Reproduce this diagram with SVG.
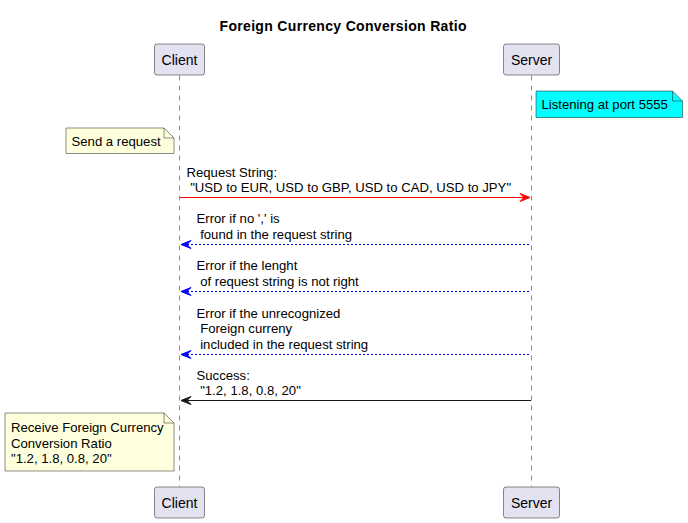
<svg xmlns="http://www.w3.org/2000/svg" width="688" height="523" viewBox="0 0 688 523">
<style>
  text { font-family: "Liberation Sans", Arial, sans-serif; fill: #000000; }
  .title { font-size: 14px; font-weight: bold; }
  .pname { font-size: 14px; }
  .msg { font-size: 13.15px; }
  .part { fill: #E2E2F0; stroke: #181818; stroke-width: 0.5; }
  .life { stroke: #181818; stroke-width: 0.5; stroke-dasharray: 5,5; fill: none; }
  .note { fill: #FEFFDD; stroke: #181818; stroke-width: 0.5; }
  .note-cyan { fill: #00FFFF; stroke: #181818; stroke-width: 0.5; }
  .fold { fill: none; stroke: #181818; stroke-width: 0.5; }
</style>
<rect width="688" height="523" fill="#FFFFFF"/>
<text class="title" x="219.5" y="30.5" textLength="247" lengthAdjust="spacing">Foreign Currency Conversion Ratio</text>

<g id="lifelines">
  <line class="life" x1="179.5" y1="75.5" x2="179.5" y2="486.5"/>
  <line class="life" x1="531.5" y1="75.5" x2="531.5" y2="486.5"/>
</g>

<g id="client">
  <rect class="part" x="154.5" y="44" width="50" height="31" rx="2.5"/>
  <text class="pname" x="179.5" y="65" text-anchor="middle">Client</text>
  <rect class="part" x="154.5" y="487" width="50" height="31" rx="2.5"/>
  <text class="pname" x="179.5" y="508" text-anchor="middle">Client</text>
</g>

<g id="server">
  <rect class="part" x="503.5" y="44" width="56" height="31" rx="2.5"/>
  <text class="pname" x="531.5" y="65" text-anchor="middle">Server</text>
  <rect class="part" x="503.5" y="487" width="56" height="31" rx="2.5"/>
  <text class="pname" x="531.5" y="508" text-anchor="middle">Server</text>
</g>

<g id="note-listening">
  <path class="note-cyan" d="M536,91 L536,117.5 L682.5,117.5 L682.5,101 L672.5,91 Z"/>
  <path class="fold" d="M672.5,91 L672.5,101 L682.5,101"/>
  <text class="msg" x="541.5" y="109">Listening at port 5555</text>
</g>

<g id="note-send">
  <path class="note" d="M66,128 L66,153.5 L174,153.5 L174,138 L164,128 Z"/>
  <path class="fold" d="M164,128 L164,138 L174,138"/>
  <text class="msg" x="71.5" y="146">Send a request</text>
</g>

<g id="note-receive">
  <path class="note" d="M5,413 L5,471 L174,471 L174,423 L164,413 Z"/>
  <path class="fold" d="M164,413 L164,423 L174,423"/>
  <text class="msg" x="11" y="432">Receive Foreign Currency</text>
  <text class="msg" x="11" y="447.5">Conversion Ratio</text>
  <text class="msg" x="11" y="463">"1.2, 1.8, 0.8, 20"</text>
</g>

<g id="connectors">
  <line x1="180" y1="197.5" x2="528" y2="197.5" stroke="#FF0000" stroke-width="1"/>
  <polygon points="520,193.5 530,197.5 520,201.5 524,197.5" fill="#FF0000" stroke="#FF0000" stroke-width="1"/>
  <text class="msg" x="186.5" y="176.5">Request String:</text>
  <text class="msg" x="186.5" y="192" xml:space="preserve"> "USD to EUR, USD to GBP, USD to CAD, USD to JPY"</text>

  <line x1="183" y1="244.5" x2="531" y2="244.5" stroke="#0000FF" stroke-width="1" stroke-dasharray="2,2"/>
  <polygon points="191,240.5 181,244.5 191,248.5 187,244.5" fill="#0000FF" stroke="#0000FF" stroke-width="1"/>
  <text class="msg" x="196.5" y="223">Error if no ',' is</text>
  <text class="msg" x="196.5" y="238.5" xml:space="preserve"> found in the request string</text>

  <line x1="183" y1="291.5" x2="531" y2="291.5" stroke="#0000FF" stroke-width="1" stroke-dasharray="2,2"/>
  <polygon points="191,287.5 181,291.5 191,295.5 187,291.5" fill="#0000FF" stroke="#0000FF" stroke-width="1"/>
  <text class="msg" x="196.5" y="270">Error if the lenght</text>
  <text class="msg" x="196.5" y="285.5" xml:space="preserve"> of request string is not right</text>

  <line x1="183" y1="354.5" x2="531" y2="354.5" stroke="#0000FF" stroke-width="1" stroke-dasharray="2,2"/>
  <polygon points="191,350.5 181,354.5 191,358.5 187,354.5" fill="#0000FF" stroke="#0000FF" stroke-width="1"/>
  <text class="msg" x="196.5" y="317.5">Error if the unrecognized</text>
  <text class="msg" x="196.5" y="333" xml:space="preserve"> Foreign curreny</text>
  <text class="msg" x="196.5" y="348.5" xml:space="preserve"> included in the request string</text>

  <line x1="183" y1="400.5" x2="531" y2="400.5" stroke="#181818" stroke-width="1"/>
  <polygon points="191,396.5 181,400.5 191,404.5 187,400.5" fill="#181818" stroke="#181818" stroke-width="1"/>
  <text class="msg" x="196.5" y="379.5">Success:</text>
  <text class="msg" x="196.5" y="395" xml:space="preserve"> "1.2, 1.8, 0.8, 20"</text>
</g>
</svg>
